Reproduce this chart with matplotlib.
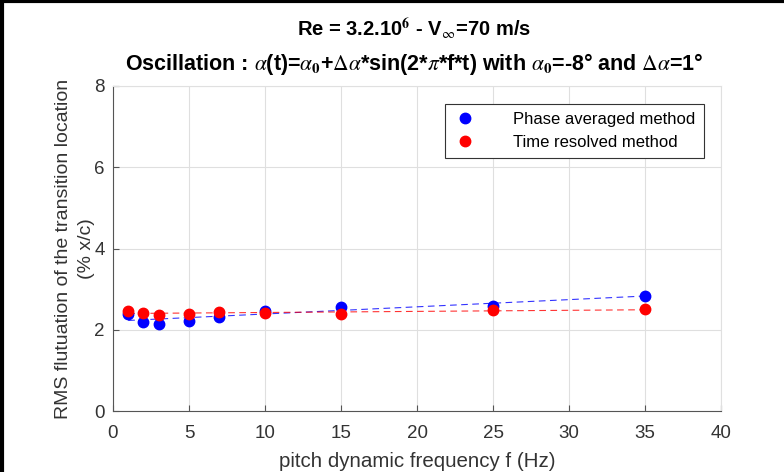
import numpy as np
import matplotlib
matplotlib.use("Agg")
import matplotlib.pyplot as plt
from matplotlib.lines import Line2D

plt.rcParams['font.family'] = ['Liberation Sans', 'DejaVu Sans']
plt.rcParams['mathtext.fontset'] = 'stix'

freq = [1, 2, 3, 5, 7, 10, 15, 25, 35]
phase_avg = [2.39, 2.20, 2.14, 2.22, 2.32, 2.45, 2.57, 2.59, 2.84]
time_res = [2.45, 2.42, 2.36, 2.40, 2.43, 2.42, 2.40, 2.48, 2.50]
xticks = [0, 5, 10, 15, 20, 25, 30, 35, 40]
yticks = [0, 2, 4, 6, 8]

W, H = 784, 472
fig = plt.figure(figsize=(W/100, H/100), dpi=100)
ax = fig.add_axes([113/W, 1-411/H, (721-113)/W, (411-86)/H])

f = np.array(freq)
for vals, col in [(phase_avg, 'blue'), (time_res, 'red')]:
    p = np.polyfit(f, vals, 1)
    xl = np.array([f.min(), f.max()])
    ax.plot(xl, np.polyval(p, xl), '--', color=col, lw=0.8, dashes=(6, 4), alpha=0.8)

ax.plot(freq, phase_avg, 'o', color='blue', ms=7.5, label='Phase averaged method', zorder=3)
ax.plot(freq, time_res, 'o', color='red', ms=7.5, label='Time resolved method', zorder=3)

ax.set_xlim(0, 40)
ax.set_ylim(0, 8)
ax.set_xticks(xticks)
ax.set_yticks(yticks)
ax.grid(True, color='#dfdfdf', lw=0.8)
ax.set_axisbelow(True)
for s in ['top', 'right']:
    ax.spines[s].set_color('#e0e0e0')
for s in ['left', 'bottom']:
    ax.spines[s].set_color('#555555')
ax.tick_params(direction='in', length=4, color='#555555', labelsize=13.5, labelcolor='#333333',
               top=False, right=False)
ax.tick_params(axis='x', pad=10)
ax.tick_params(axis='y', pad=6)

ax.set_xlabel('pitch dynamic frequency f (Hz)', fontsize=14.8, color='#333333', labelpad=7)
ax.set_ylabel('RMS flutuation of the transition location\n(% x/c)', fontsize=14, color='#333333',
              linespacing=1.5)
ax.yaxis.set_label_coords(-18/608, 0.5)

cx = 414/W
line1 = 'Re = 3.2.10$^{\\mathbf{6}}$ - V$_{\\infty}$=70 m/s'
line2 = ('Oscillation : $\\alpha$(t)=$\\alpha_{\\mathbf{0}}$+$\\Delta\\alpha$*sin(2*$\\pi$*f*t) with '
         '$\\alpha_{\\mathbf{0}}$=-8° and $\\Delta\\alpha$=1°')
fig.text(cx, 1-36/H, line1, ha='center', va='baseline', fontsize=14.5, fontweight='bold')
fig.text(cx, 1-70/H, line2, ha='center', va='baseline', fontsize=15.5, fontweight='bold')

leg = ax.legend(loc='upper right', bbox_to_anchor=((704-113)/608, (411-104)/325), fontsize=12,
                frameon=True, fancybox=False, edgecolor='#333333', framealpha=1,
                handletextpad=2.2, borderpad=0.5, handlelength=1.4, labelspacing=0.45,
                borderaxespad=0)
leg.get_frame().set_linewidth(0.8)

fig.add_artist(Line2D([0.002, 0.002], [0, 1], transform=fig.transFigure, color='black', lw=3))
fig.add_artist(Line2D([0, 1], [0.997, 0.997], transform=fig.transFigure, color='black', lw=3))

fig.savefig('out.png', dpi=100)
